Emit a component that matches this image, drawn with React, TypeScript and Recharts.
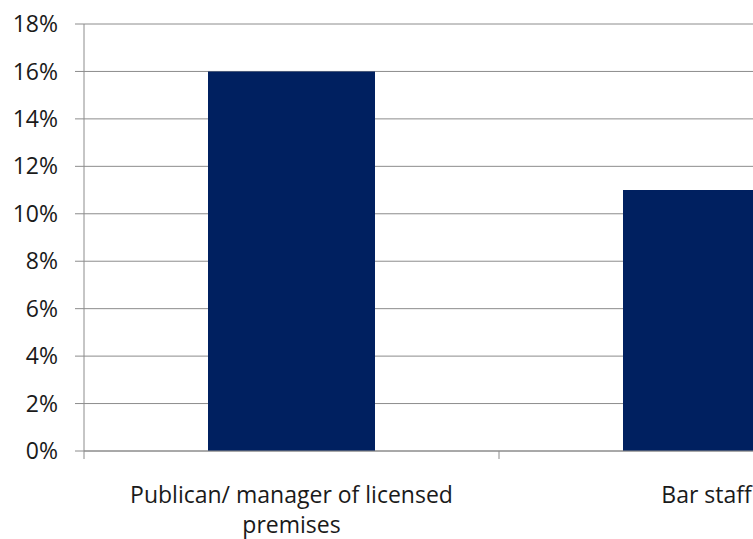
import { Bar, BarChart, CartesianGrid, XAxis, YAxis } from "recharts";

const occupations = ["Publican/ manager of licensed premises", "Bar staff"];
const shares = [0.16, 0.11];
const yTicks = [0, 0.02, 0.04, 0.06, 0.08, 0.1, 0.12, 0.14, 0.16, 0.18];

const data = occupations.map((name, i) => ({ name, share: shares[i] }));

const FONT = "'Open Sans', sans-serif";
const GRID = "#8c8c8c";
const TEXT = "#1a1a1a";
const TICK_SIZE = 8;
const TICK_MARGIN = 26;
const MAX_CHARS = 30;

// simple word wrap so the long category label breaks like the original
function wrap(label: string) {
  const lines: string[] = [];
  let cur = "";
  for (const w of label.split(" ")) {
    const next = cur ? cur + " " + w : w;
    if (next.length > MAX_CHARS && cur) {
      lines.push(cur);
      cur = w;
    } else {
      cur = next;
    }
  }
  if (cur) lines.push(cur);
  return lines;
}

function CategoryTick(props: any) {
  const { x, y, payload } = props;
  const half = payload?.offset ?? 0;
  const axisY = y - TICK_MARGIN - TICK_SIZE;
  const lines = wrap(String(payload.value));
  return (
    <g>
      <line x1={x - half} x2={x - half} y1={axisY} y2={axisY + TICK_SIZE} stroke={GRID} />
      <text x={x} y={y} textAnchor="middle" fill={TEXT} style={{ fontSize: 23, fontFamily: FONT }}>
        {lines.map((l, i) => (
          <tspan key={i} x={x} dy={i === 0 ? "0.8em" : 30}>
            {l}
          </tspan>
        ))}
      </text>
    </g>
  );
}

export default function App() {
  return (
    <div
      style={{
        position: "absolute",
        left: 0,
        top: 0,
        width: 753,
        height: 539,
        overflow: "hidden",
        background: "#fff",
        fontFamily: FONT,
      }}
    >
      <BarChart width={920} height={539} data={data} margin={{ top: 24, right: 6, bottom: 0, left: 0 }}>
        <CartesianGrid vertical={false} stroke={GRID} />
        <XAxis
          dataKey="name"
          height={88}
          interval={0}
          axisLine={{ stroke: GRID }}
          tickLine={false}
          tickSize={TICK_SIZE}
          tickMargin={TICK_MARGIN}
          tick={<CategoryTick />}
        />
        <YAxis
          width={84}
          domain={[0, 0.18]}
          ticks={yTicks}
          interval={0}
          tickFormatter={(v: number) => `${Math.round(v * 100)}%`}
          axisLine={{ stroke: GRID }}
          tickLine={{ stroke: GRID }}
          tickSize={9}
          tickMargin={17}
          tick={{ fontSize: 23, fill: TEXT, fontFamily: FONT }}
        />
        <Bar dataKey="share" fill="#002060" barSize={167} isAnimationActive={false} />
      </BarChart>
    </div>
  );
}
